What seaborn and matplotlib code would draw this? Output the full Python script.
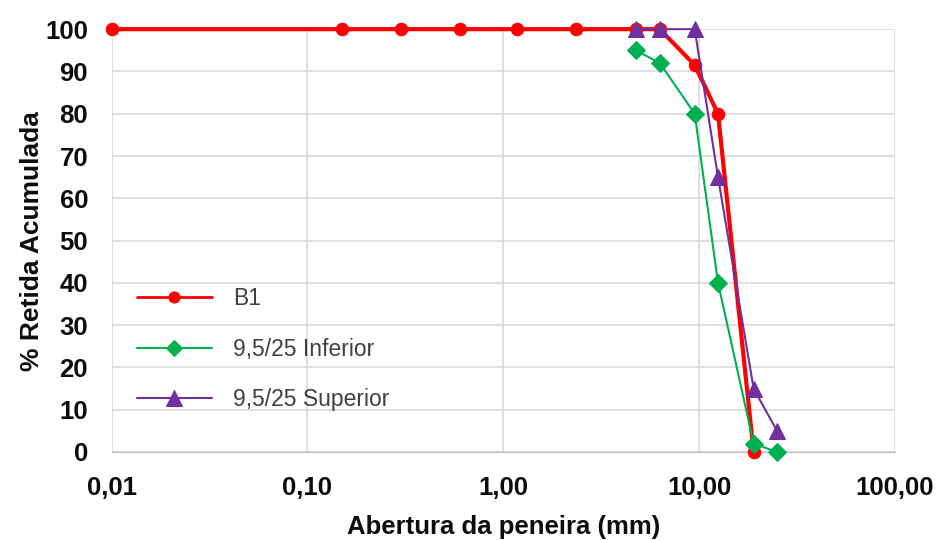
import numpy as np
import pandas as pd
import matplotlib
matplotlib.use("Agg")
import matplotlib.pyplot as plt
from matplotlib.ticker import FixedLocator, FixedFormatter, NullLocator
import seaborn as sns

# Sieve openings (mm) and cumulative retained (%)
b1_x = [0.01, 0.15, 0.3, 0.6, 1.18, 2.36, 4.75, 6.3, 9.5, 12.5, 19]
b1_y = [100, 100, 100, 100, 100, 100, 100, 100, 91.5, 80, 0]

inf_x = [4.75, 6.3, 9.5, 12.5, 19, 25]
inf_y = [95, 92, 80, 40, 2, 0]

sup_x = [4.75, 6.3, 9.5, 12.5, 19, 25]
sup_y = [100, 100, 100, 65, 15, 5]

series_names = ["B1", "9,5/25 Inferior", "9,5/25 Superior"]
x_ticks = [0.01, 0.1, 1, 10, 100]
x_tick_labels = ["0,01", "0,10", "1,00", "10,00", "100,00"]
y_ticks = list(range(0, 101, 10))

df = pd.concat([
    pd.DataFrame({"abertura": b1_x, "retida": b1_y, "serie": series_names[0]}),
    pd.DataFrame({"abertura": inf_x, "retida": inf_y, "serie": series_names[1]}),
    pd.DataFrame({"abertura": sup_x, "retida": sup_y, "serie": series_names[2]}),
], ignore_index=True)

sns.set_style("white")
plt.rcParams["font.family"] = ["Liberation Sans", "DejaVu Sans"]

styles = {
    "B1": dict(color="#FF0000", marker="o", lw=3.0, ms=9, leg_lw=2.0, leg_ms=8),
    "9,5/25 Inferior": dict(color="#00B050", marker="D", lw=1.5, ms=9, leg_lw=1.5, leg_ms=8),
    "9,5/25 Superior": dict(color="#7030A0", marker="^", lw=1.5, ms=12, leg_lw=1.5, leg_ms=11),
}

fig = plt.figure(figsize=(9.38, 5.4), dpi=100)
ax = fig.add_axes([0.119, 0.163, 0.835, 0.783])

for name in series_names:
    st = styles[name]
    sub = df[df["serie"] == name]
    sns.lineplot(data=sub, x="abertura", y="retida", ax=ax, sort=False,
                 color=st["color"], marker=st["marker"], linewidth=st["lw"],
                 markersize=st["ms"], markeredgecolor=st["color"],
                 label=name, clip_on=False, zorder=3)

ax.set_xscale("log")
ax.set_xlim(0.01, 100)
ax.set_ylim(0, 100)
ax.xaxis.set_major_locator(FixedLocator(x_ticks))
ax.xaxis.set_major_formatter(FixedFormatter(x_tick_labels))
ax.xaxis.set_minor_locator(NullLocator())
ax.set_yticks(y_ticks)

ax.grid(True, color="#D9D9D9", linewidth=1.2)
for side in ["top", "right", "left"]:
    ax.spines[side].set_visible(False)
ax.spines["bottom"].set_color("#BFBFBF")
ax.tick_params(axis="both", length=0, labelcolor="#0D0D0D")
ax.tick_params(axis="x", pad=17)
ax.tick_params(axis="y", pad=17)
for lbl in ax.get_xticklabels() + ax.get_yticklabels():
    lbl.set_fontweight("bold")
    lbl.set_fontsize(18.5)

ax.set_xlabel("Abertura da peneira (mm)", fontsize=18.5, fontweight="bold",
              labelpad=11, color="#0D0D0D")
ax.set_ylabel("% Retida Acumulada", fontsize=19, fontweight="bold",
              labelpad=1, color="#0D0D0D")

leg = ax.legend(loc="upper left", bbox_to_anchor=(0.032, 0.39), frameon=False,
                fontsize=16.5, handlelength=3.3, labelspacing=1.2,
                handletextpad=0.9, borderpad=0, borderaxespad=0)
for t in leg.get_texts():
    t.set_color("#404040")
for h, name in zip(leg.legend_handles, series_names):
    h.set_linewidth(styles[name]["leg_lw"])
    h.set_markersize(styles[name]["leg_ms"])

fig.savefig("out.png", dpi=100)
